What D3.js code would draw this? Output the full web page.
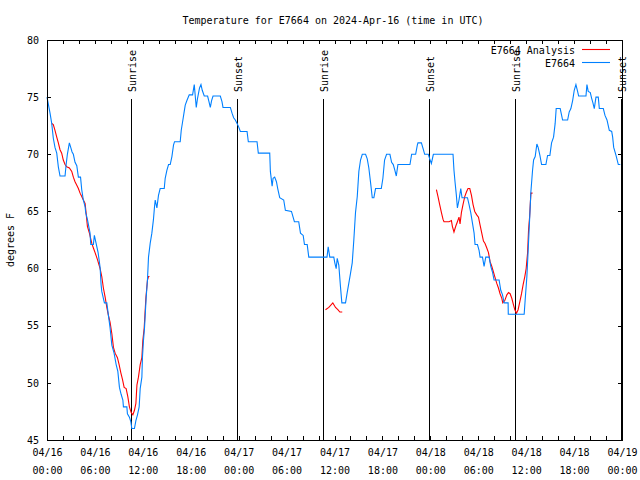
<!DOCTYPE html>
<html><head><meta charset="utf-8">
<script src="https://cdn.jsdelivr.net/npm/d3@7"></script>
<style>
body{margin:0;background:#fff;}
text{font-family:"DejaVu Sans Mono",monospace;font-size:10px;fill:#000;}
</style></head>
<body><svg id="c" width="640" height="480"></svg>
<script>
// hours after 2024-04-16 00:00 UTC
const stationHours = [0.00,0.38,0.59,0.79,1.00,1.22,1.42,1.63,2.26,2.38,2.55,2.80,2.97,3.14,3.30,3.51,3.73,3.93,4.20,4.35,4.55,4.77,4.85,5.06,5.39,5.48,5.81,5.93,6.15,6.40,6.65,6.77,6.86,7.19,7.49,7.69,7.90,8.12,8.40,8.66,8.87,9.07,9.28,9.50,9.57,10.00,10.07,10.32,10.50,10.62,10.95,11.13,11.33,11.54,11.67,11.88,11.95,12.08,12.21,12.42,12.58,12.71,12.92,13.13,13.33,13.46,13.55,13.76,13.96,14.17,14.68,14.80,15.01,15.22,15.43,15.64,15.84,15.97,16.68,16.81,16.97,17.15,17.31,17.52,17.81,18.23,18.44,18.69,18.85,19.10,19.28,19.44,19.69,20.11,20.28,20.45,20.61,20.79,21.70,21.91,22.04,22.96,23.17,23.37,23.58,23.80,24.00,24.21,25.05,25.21,26.30,26.46,27.89,27.97,28.19,28.31,28.51,28.73,28.89,29.14,29.64,29.85,30.61,30.98,31.52,31.74,32.08,32.24,32.58,32.78,35.06,35.21,35.41,35.91,36.04,36.21,36.34,36.54,36.75,36.92,37.38,37.59,37.79,38.01,38.22,38.42,38.63,38.85,39.05,39.26,39.48,39.89,40.10,40.30,40.52,40.73,40.93,41.14,41.86,42.06,42.27,42.52,42.94,43.15,43.36,43.56,43.74,43.94,45.45,45.66,46.16,46.37,46.45,46.88,47.13,47.29,47.75,47.92,48.13,48.38,50.84,50.96,51.09,51.26,51.39,51.59,51.81,51.97,52.65,52.85,53.06,53.27,53.48,53.60,53.90,54.10,54.23,54.53,54.73,54.94,55.36,55.57,55.78,55.98,56.61,56.82,57.04,57.24,57.74,57.76,59.75,59.87,60.09,60.25,60.43,60.59,60.80,60.93,61.13,61.34,61.50,61.72,61.93,62.47,62.68,62.97,63.18,63.43,63.63,63.76,64.26,64.44,64.56,65.19,65.39,65.60,65.82,66.02,66.23,66.44,66.57,67.49,67.61,67.77,68.03,68.20,68.36,68.53,68.74,69.03,69.16,69.66,69.87,70.12,70.41,70.71,70.83,70.96,71.25,71.54,71.79];
const stationTemps = [75,73.6,72.7,71.4,70.6,70.1,68.9,68.1,68.1,69,70,71,70.6,70.2,70,69.3,69,68,68,66.9,66,65.4,64.9,64.3,63.1,62.1,62.1,62.9,62.2,61.4,60.1,58.6,58,57,57,55.9,54.8,53.3,52.6,51.6,51,49.6,49,48.5,47.9,47.9,47.3,47,46.6,46,46,46.7,47.2,47.9,49.5,50.5,52.2,53.7,54.8,57.5,59,61,62.2,63.1,64.3,65.4,66,65.3,66.4,67,67,67.9,68.6,69.1,69.1,69.8,70.8,71.1,71.1,72.1,72.8,73.6,74.3,74.7,75.2,75.2,76.1,74.1,74.9,75.8,76.1,75.6,75.1,75.1,74.6,74.1,74.7,75.1,75.1,74.6,74.1,74.1,73.6,73.2,73,72.7,72.4,72,72,71.1,71.1,70.1,70.1,68.5,67.2,67.9,68,67.6,67,66.2,66,65.1,65,64.1,64.1,63.1,62.9,62.1,62.1,61,61,61.9,61,61,60.5,60,60.9,60.3,58.4,57,57,57.9,58.7,59.6,60.5,62.5,64.9,66.3,68.5,69.5,70,70,69.6,68.8,67.5,66.2,66.2,67,67,67.9,69.5,70,70,69.3,69.1,68.6,68.1,69.1,69.1,70,70,70.8,71,71,70.4,70,70,69.6,69.2,70,70,68.6,67.6,66.4,65.3,66,67,66.2,66.2,65.6,64.9,64,63.1,62.1,62.1,61.6,61,61,60.2,61,61,60.2,59.7,59,59,58.1,57.7,57,57,56,56,57.2,59.3,61.6,64.3,66.7,68.6,69.5,69.8,70.9,70.6,69.9,69.1,69.1,69.9,69.9,71,71.5,72.7,74,74,73.4,73,73,73.7,74,74.7,75.6,76.1,75.5,75.1,75.1,76.1,75.5,75.4,74.9,74.5,74,75,75,74,74,73.4,73,72.1,72,71.5,70.6,69.9,69.1,69.1];
// null marks a gap in the analysis series
const analysisHours = [0.59,0.79,1.00,1.22,1.42,1.63,1.84,2.04,2.26,2.47,2.80,3.10,3.30,3.51,3.73,3.93,4.14,4.35,4.55,4.77,4.89,5.06,5.31,5.61,5.81,6.02,6.31,6.65,6.86,7.06,7.28,7.49,7.69,7.90,8.12,8.32,8.53,8.82,9.03,9.24,9.45,9.66,9.91,10.12,10.32,10.54,10.75,10.95,11.13,11.26,11.45,11.67,11.88,12.00,12.17,12.38,12.58,12.71,12.83,
  20.0,
  34.87,35.29,35.79,36.13,36.42,36.67,36.97,
  42.0,
  48.76,48.96,49.17,49.39,49.59,49.71,50.34,50.64,50.76,50.96,51.18,51.39,51.59,51.72,51.89,52.09,52.31,52.52,52.72,52.94,53.15,53.35,53.56,53.81,54.03,54.23,54.44,54.65,54.85,55.07,55.28,55.48,55.69,55.90,56.07,56.32,56.53,56.73,56.95,57.07,57.32,57.58,57.79,57.99,58.20,58.42,58.58,58.79,58.99,59.21,59.42,59.62,59.83,60.00,60.18,60.30,60.43,60.59,60.80];
const analysisTemps = [72.7,72.6,72.1,71.5,71,70.4,70.1,69.5,69.1,68.9,68.8,68.5,68,67.6,67.3,67,66.6,66.3,66,65.7,64.9,63.7,63.1,62.2,61.8,61.4,60.8,60,59.3,58.3,57.5,56.6,55.9,55.3,54.3,53.1,52.6,52.2,51.6,50.9,50.3,49.6,49.5,48.8,47.9,47.4,47.2,47.6,48.2,49.8,50.5,51.6,52.2,53.7,54.8,57.4,59,59.3,59.3,
  null,
  56.4,56.6,57,56.6,56.4,56.2,56.2,
  null,
  66.9,66.3,65.6,64.9,64.3,64.1,64.1,64.2,63.7,63.2,63.7,64.1,64.5,63.9,64.9,65.6,66.3,66.7,67,67,66.4,65.6,65,64.7,64.5,63.8,63.1,62.4,62.2,61.8,61.4,60.6,60.2,59.7,59.3,58.7,58.3,57.8,57.4,57,57.2,57.7,57.9,57.8,57.4,56.8,56.4,56.1,56.4,57.1,57.8,58.6,59.3,60,61.4,63.4,64.5,66.6,66.6];
const sunLabels = ["Sunrise","Sunset","Sunrise","Sunset","Sunrise","Sunset"];
const sunHours = [10.57,23.77,34.53,47.83,58.66,71.85];
const yTicks = [45,50,55,60,65,70,75,80];
const seriesNames = ["E7664 Analysis","E7664"];
const seriesColors = ["#ff0000","#0080ff"];
const titleText = "Temperature for E7664 on 2024-Apr-16 (time in UTC)";
const yLabel = "degrees F";

const t0 = Date.UTC(2024,3,16);
const toDate = h => new Date(t0 + h*3600000);
const svg = d3.select("#c");
const L=47,R=622,T=40,B=440;
const x = d3.scaleUtc().domain([toDate(0),toDate(72)]).range([L,R]);
const y = d3.scaleLinear().domain([45,80]).range([B,T]);

svg.append("text").attr("x",333).attr("y",24).attr("text-anchor","middle").text(titleText);

const minor = d3.utcHour.every(2).range(toDate(0),toDate(72.01));
const major = d3.utcHour.every(6).range(toDate(0),toDate(72.01));

function clean(g){g.select(".domain").remove();g.selectAll("line").attr("stroke","#000").attr("shape-rendering","crispEdges");g.selectAll("text").attr("font-family",null).attr("font-size",null);}
svg.append("g").attr("transform",`translate(0,${B})`).call(d3.axisBottom(x).tickValues(minor).tickSize(-4).tickFormat("")).call(clean);
svg.append("g").attr("transform",`translate(0,${T})`).call(d3.axisTop(x).tickValues(minor).tickSize(-4).tickFormat("")).call(clean);
const lab = svg.append("g").attr("transform",`translate(0,${B})`).call(d3.axisBottom(x).tickValues(major).tickSize(0).tickPadding(9).tickFormat(d3.utcFormat("%m/%d|%H:%M"))).call(clean);
lab.selectAll("text").each(function(){const s=d3.select(this);const p=s.text().split("|");s.text(null);
  s.append("tspan").attr("x",0).attr("dy","0.71em").text(p[0]);
  s.append("tspan").attr("x",0).attr("dy","1.75em").text(p[1]);}).attr("dy",null);
svg.append("g").attr("transform",`translate(${L},0)`).call(d3.axisLeft(y).tickValues(yTicks).tickSize(-4).tickPadding(8)).call(clean);
svg.append("g").attr("transform",`translate(${R},0)`).call(d3.axisRight(y).tickValues(yTicks).tickSize(-4).tickFormat("")).call(clean);

svg.append("text").attr("transform",`translate(14,${(T+B)/2}) rotate(-90)`).attr("text-anchor","middle").text(yLabel);

// sun lines
sunHours.forEach((h,i)=>{
  const sx = Math.round(x(toDate(h)))+0.5;
  svg.append("line").attr("x1",sx).attr("x2",sx).attr("y1",99).attr("y2",B).attr("stroke","#000");
  svg.append("text").attr("transform",`translate(${sx+4.5},92) rotate(-90)`).attr("text-anchor","start").text(sunLabels[i]);
});

const line = d3.line().defined(d=>d[1]!=null).x(d=>x(toDate(d[0]))).y(d=>y(d[1]));
svg.append("path").datum(analysisHours.map((h,i)=>[h,analysisTemps[i]])).attr("d",line).attr("fill","none").attr("stroke",seriesColors[0]).attr("stroke-width",1.1);
svg.append("path").datum(stationHours.map((h,i)=>[h,stationTemps[i]])).attr("d",line).attr("fill","none").attr("stroke",seriesColors[1]).attr("stroke-width",1.1);

svg.append("rect").attr("x",L+0.5).attr("y",T+0.5).attr("width",R-L).attr("height",B-T).attr("fill","none").attr("stroke","#000");

// legend
seriesNames.forEach((n,i)=>{
  const ly = 50 + i*13;
  svg.append("text").attr("x",575).attr("y",ly+3.5).attr("text-anchor","end").text(n);
  svg.append("line").attr("x1",582).attr("x2",610).attr("y1",ly-0.5).attr("y2",ly-0.5).attr("stroke",seriesColors[i]).attr("stroke-width",1.1);
});
</script></body></html>
